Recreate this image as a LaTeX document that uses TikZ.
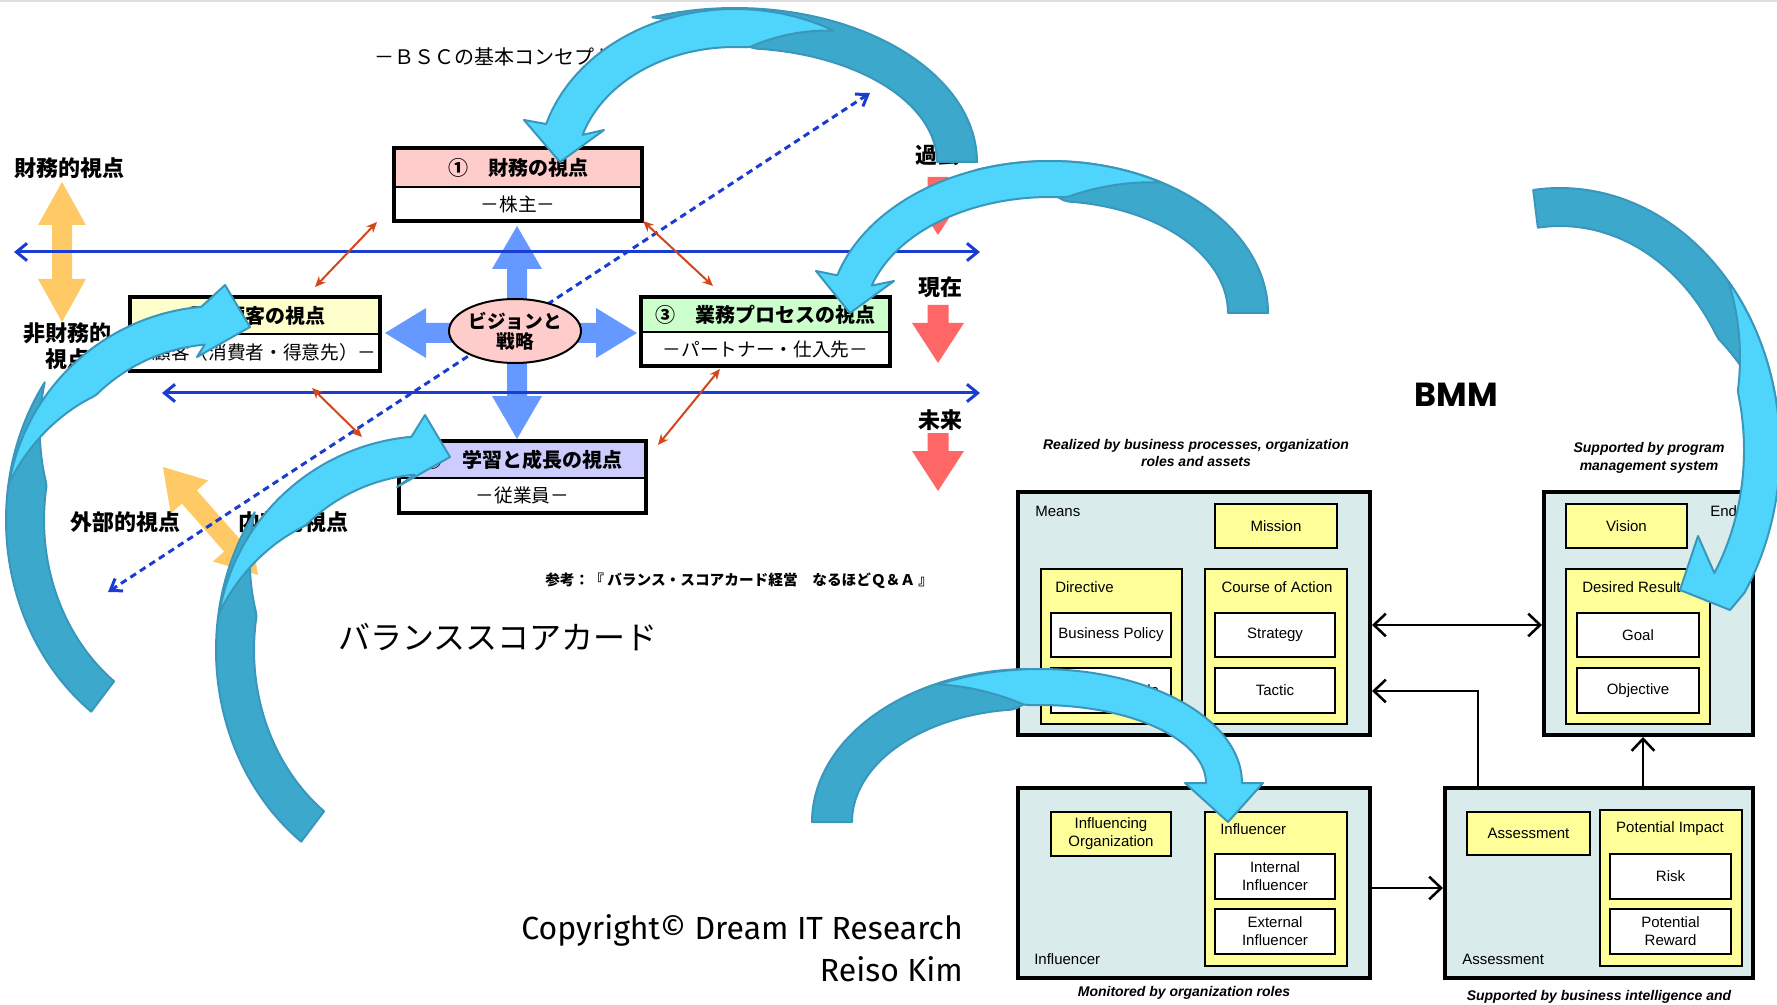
\documentclass[tikz,border=0pt]{standalone}
\usepackage{fontspec}
\setmainfont{Liberation Sans}
\newfontfamily\jpfont{Noto Sans CJK JP}
\newfontfamily\copyfont{Fira Sans}
\newfontfamily\headfont{Poppins}
\usetikzlibrary{arrows.meta,fit,shapes.geometric}

\definecolor{hdpink}{HTML}{FFCCCC}
\definecolor{hdyellow}{HTML}{FFFFCC}
\definecolor{hdgreen}{HTML}{CCFFCC}
\definecolor{hdviolet}{HTML}{CCCCFF}
\definecolor{axisblue}{HTML}{1A3CD2}
\definecolor{crossblue}{HTML}{6699FF}
\definecolor{linkred}{HTML}{D2461A}
\definecolor{timered}{HTML}{FF6666}
\definecolor{viewgold}{HTML}{FFC966}
\definecolor{panel}{HTML}{DAEBEC}
\definecolor{note}{HTML}{FFFF99}
\definecolor{ribbonfront}{HTML}{4FD4FB}
\definecolor{ribbonback}{HTML}{3CA8CB}
\definecolor{ribbonedge}{HTML}{3A97BC}

% back half of a curved block arrow: cx cy a b t_tail t_full t_zero width
\newcommand{\backband}[8]{%
  \filldraw[backface] plot[domain=#5:#7] ({#1+#3*cos(\x)},{#2+#4*sin(\x)})
    -- plot[domain=#7:#5] ({#1+(#3-#8*min(1,(\x-#7)/(#6-#7)))*cos(\x)},{#2+(#4-#8*min(1,(\x-#7)/(#6-#7)))*sin(\x)}) -- cycle;}
% front half with head: cx cy a b t_zero t_full t_head width head
\newcommand{\frontband}[9]{%
  \filldraw[frontface] plot[domain=#5:#7] ({#1+#3*cos(\x)},{#2+#4*sin(\x)}) -- #9
    -- plot[domain=#7:#5] ({#1+(#3-#8*min(1,(\x-#5)/(#6-#5)))*cos(\x)},{#2+(#4-#8*min(1,(\x-#5)/(#6-#5)))*sin(\x)}) -- cycle;}

\begin{document}
\begin{tikzpicture}[x=0.75pt,y=0.75pt,yscale=-1,xscale=1,
  hd/.style={draw, line width=1.1pt, inner sep=0pt},
  sub/.style={fill=white, inner sep=0pt},
  hdtext/.style={inner sep=0pt, font=\jpfont\bfseries\fontsize{15}{17}\selectfont},
  subtext/.style={inner sep=0pt, font=\jpfont\fontsize{14}{16}\selectfont},
  frame/.style={draw, line width=3pt, inner sep=0pt},
  jplabel/.style={inner sep=0pt, font=\jpfont\bfseries\fontsize{16.5}{19}\selectfont},
  axis/.style={axisblue, line width=2.25pt, {Straight Barb[length=8pt,width=13pt]}-{Straight Barb[length=8pt,width=13pt]}},
  timeline/.style={axisblue, line width=2.25pt, dash pattern=on 5pt off 3.5pt, {Straight Barb[length=8pt,width=11pt]}-{Straight Barb[length=8pt,width=11pt]}},
  redlink/.style={linkred, line width=1.5pt, {Stealth[length=8pt,width=7pt]}-{Stealth[length=8pt,width=7pt]}},
  panelbox/.style={draw, fill=panel, line width=3pt, inner sep=0pt},
  notebox/.style={draw, fill=note, line width=1.1pt, inner sep=0pt},
  itembox/.style={draw, fill=white, line width=1.1pt, inner sep=0pt},
  tag/.style={inner sep=0pt, align=center, font=\fontsize{11.25}{13.5}\selectfont},
  caption/.style={inner sep=0pt, align=center, font=\bfseries\itshape\fontsize{10.5}{13}\selectfont},
  flow/.style={line width=1.9pt, {Straight Barb[length=9pt,width=17pt]}-{Straight Barb[length=9pt,width=17pt]}},
  flowto/.style={line width=1.9pt, -{Straight Barb[length=9pt,width=17pt]}},
  backface/.style={fill=ribbonback, draw=ribbonedge, line width=1.5pt, line join=round, samples=60},
  frontface/.style={fill=ribbonfront, draw=ribbonedge, line width=1.5pt, line join=round, samples=60}]
\useasboundingbox (0,0) rectangle (1777,1005);
\draw[gray!25, line width=1.5pt] (0,1) -- (1777,1);

%%%%%%%%%%%%%%%% balanced scorecard %%%%%%%%%%%%%%%%
% four-way arrow behind the vision
\fill[crossblue] (517,226) -- (542,269) -- (527,269) -- (527,323) -- (596,323) -- (596,308) -- (637,333) -- (596,358) -- (596,343) -- (527,343) -- (527,396) -- (542,396) -- (517,439) -- (492,396) -- (507,396) -- (507,343) -- (426,343) -- (426,358) -- (385,333) -- (426,308) -- (426,323) -- (507,323) -- (507,269) -- (492,269) -- cycle;

% financial / non-financial
\fill[viewgold] (62,182) -- (86,225) -- (72,225) -- (72,279) -- (86,279) -- (62,322) -- (38,279) -- (52,279) -- (52,225) -- (38,225) -- cycle;
% external / internal
\fill[viewgold] (163,467) -- (208.2,480.5) -- (196.9,490.4) -- (239.1,538.4) -- (250.4,528.5) -- (258,575) -- (212.9,561.5) -- (224.1,551.6) -- (181.9,503.6) -- (170.7,513.5) -- cycle;

% time axes
\coordinate (axTL) at (14,252);
\coordinate (axTR) at (980,252);
\coordinate (axBL) at (162,393);
\coordinate (axBR) at (980,393);
\draw[axis] (axTL) -- (axTR);
\draw[axis] (axBL) -- (axBR);

% diagonal
\coordinate (diagL) at (108,592);
\coordinate (diagR) at (870,93);
\draw[timeline] (diagL) -- (diagR);

% past, present, future
\foreach \y in {177,305,433}
  \fill[timered] (927.5,\y) -- (948.5,\y) -- (948.5,\y+18) -- (964,\y+18) -- (938,\y+58) -- (912,\y+18) -- (927.5,\y+18) -- cycle;

% perspectives
\node[sub, fit={(394,187) (642,221)}] (finsub) {};
\node[hd, fill=hdpink, fit={(394,148) (642,187)}] (fin) {};
\node[frame, fit={(394,148) (642,221)}] (finbox) {};
\node[hdtext] at (fin.center) {①　財務の視点};
\node[subtext] at (finsub.center) {－株主－};

\node[sub, fit={(130,334) (380,371)}] (cussub) {};
\node[hd, fill=hdyellow, fit={(130,297) (380,334)}] (cus) {};
\node[frame, fit={(130,297) (380,371)}] (cusbox) {};
\node[hdtext] at (cus.center) {②　顧客の視点};
\node[subtext] at (cussub.center) {－顧客（消費者・得意先）－};

\node[sub, fit={(641,332) (890,366)}] (prosub) {};
\node[hd, fill=hdgreen, fit={(641,297) (890,332)}] (pro) {};
\node[frame, fit={(641,297) (890,366)}] (probox) {};
\node[hdtext] at (pro.center) {③　業務プロセスの視点};
\node[subtext] at (prosub.center) {－パートナー・仕入先－};

\node[sub, fit={(399,478) (646,513)}] (lrnsub) {};
\node[hd, fill=hdviolet, fit={(399,441) (646,478)}] (lrn) {};
\node[frame, fit={(399,441) (646,513)}] (lrnbox) {};
\node[hdtext] at (lrn.center) {④　学習と成長の視点};
\node[subtext] at (lrnsub.center) {－従業員－};

\node[ellipse, draw, fill=hdpink, line width=1.5pt, minimum width=86pt, minimum height=48pt, inner sep=0pt, align=center, font=\jpfont\bfseries\fontsize{14}{15}\selectfont] (vision) at (515,331) {ビジョンと\\戦略};

% links between perspectives
\coordinate (la1) at (377,222);
\coordinate (lb1) at (315,287);
\coordinate (la2) at (643,221);
\coordinate (lb2) at (713,286);
\coordinate (la3) at (312,388);
\coordinate (lb3) at (362,437);
\coordinate (la4) at (720,369);
\coordinate (lb4) at (658,445);
\foreach \p in {1,...,4}
  \draw[redlink] (la\p) -- (lb\p);

% labels
\node[anchor=west, inner sep=0pt, font=\jpfont\fontsize{15}{17}\selectfont] (concept) at (374,57) {－ＢＳＣの基本コンセプト－};
\node[jplabel, anchor=west] (finview) at (14,168) {財務的視点};
\node[jplabel, align=center] (nonfinview) at (67,346) {非財務的\\視点};
\node[jplabel, anchor=west] (extview) at (70,522) {外部的視点};
\node[jplabel, anchor=west] (intview) at (238,522) {内部的視点};
\node[jplabel] (past) at (937,155) {過去};
\node[jplabel] (now) at (940,287) {現在};
\node[jplabel] (future) at (940,420) {未来};
\node[anchor=west, inner sep=0pt, font=\jpfont\bfseries\fontsize{11}{13}\selectfont] (source) at (545,581) {参考：『 バランス・スコアカード経営　なるほどＱ＆Ａ 』};
\node[anchor=west, inner sep=0pt, font=\jpfont\fontsize{24}{28}\selectfont] (bsc) at (338,637) {バランススコアカード};

\node[anchor=east, inner sep=0pt, font=\copyfont\fontsize{24}{28}\selectfont] (copy) at (963,930) {Copyright© Dream IT Research};
\node[anchor=east, inner sep=0pt, font=\copyfont\fontsize{24}{28}\selectfont] (author) at (963,969) {Reiso Kim};

%%%%%%%%%%%%%%%% business motivation model %%%%%%%%%%%%%%%%
\node[font=\headfont\bfseries\fontsize{25}{30}\selectfont] (bmm) at (1456,395) {BMM};
\node[caption] (realized) at (1196,453) {Realized by business processes, organization\\roles and assets};
\node[caption] (program) at (1649,458) {Supported by program\\management system};
\node[caption] (monitored) at (1184,993) {Monitored by organization roles};
\node[caption] (intel) at (1599,997) {Supported by business intelligence and};

% means
\node[panelbox, fit={(1018,492) (1370,735)}] (means) {};
\node[tag, anchor=west] at (1035,511) {Means};
\node[notebox, fit={(1215,504) (1337,548)}] (mission) {};
\node[tag] at (mission.center) {Mission};
\node[notebox, fit={(1041,569) (1182,724)}] (directive) {};
\node[tag, anchor=west] at (1055,587) {Directive};
\node[itembox, fit={(1051,613) (1171,657)}] (policy) {};
\node[tag] at (policy.center) {Business Policy};
\node[itembox, fit={(1051,668) (1171,713)}] (rule) {};
\node[tag] at (rule.center) {Business Rule};
\node[notebox, fit={(1205,569) (1347,724)}] (course) {};
\node[tag] at (1277,587) {Course of Action};
\node[itembox, fit={(1215,613) (1335,657)}] (strategy) {};
\node[tag] at (strategy.center) {Strategy};
\node[itembox, fit={(1215,668) (1335,713)}] (tactic) {};
\node[tag] at (tactic.center) {Tactic};

% end
\node[panelbox, fit={(1544,492) (1753,735)}] (ends) {};
\node[tag, anchor=west] at (1710,511) {End};
\node[notebox, fit={(1566,504) (1687,548)}] (visionnote) {};
\node[tag] at (visionnote.center) {Vision};
\node[notebox, fit={(1566,569) (1710,724)}] (desired) {};
\node[tag, anchor=west] at (1582,587) {Desired Result};
\node[itembox, fit={(1577,613) (1699,657)}] (goal) {};
\node[tag] at (goal.center) {Goal};
\node[itembox, fit={(1577,668) (1699,713)}] (objective) {};
\node[tag] at (objective.center) {Objective};

% influencer
\node[panelbox, fit={(1018,788) (1370,978)}] (influence) {};
\node[tag, anchor=west] at (1034,959) {Influencer};
\node[notebox, fit={(1051,812) (1171,856)}] (inforg) {};
\node[tag] at (inforg.center) {Influencing\\Organization};
\node[notebox, fit={(1205,812) (1347,966)}] (infl) {};
\node[tag, anchor=west] at (1220,829) {Influencer};
\node[itembox, fit={(1215,854) (1335,899)}] (internal) {};
\node[tag] at (internal.center) {Internal\\Influencer};
\node[itembox, fit={(1215,909) (1335,954)}] (external) {};
\node[tag] at (external.center) {External\\Influencer};

% assessment
\node[panelbox, fit={(1445,788) (1753,978)}] (assess) {};
\node[tag, anchor=west] at (1462,959) {Assessment};
\node[notebox, fit={(1467,812) (1590,855)}] (assessnote) {};
\node[tag] at (assessnote.center) {Assessment};
\node[notebox, fit={(1600,810) (1742,966)}] (impact) {};
\node[tag] at (1670,829) {Potential Impact};
\node[itembox, fit={(1610,854) (1731,899)}] (risk) {};
\node[tag] at (risk.center) {Risk};
\node[itembox, fit={(1610,909) (1731,954)}] (reward) {};
\node[tag] at (reward.center) {Potential\\Reward};

% relations
\draw[flow] ([yshift=8.6pt]means.east) -- ([yshift=8.6pt]ends.west);
\draw[flowto] ([xshift=-90.75pt]assess.north) |- ([yshift=58.1pt]means.east);
\draw[flowto] ([xshift=33pt]assess.north) -- ([xshift=33pt]assess.north |- ends.south);
\draw[flowto] ([yshift=3.75pt]influence.east) -- ([yshift=3.75pt]assess.west);

%%%%%%%%%%%%%%%% curved block arrows %%%%%%%%%%%%%%%%
\backband{735}{162}{242}{154}{360}{275}{250}{40}
\frontband{735}{170}{197}{161}{300}{275}{196.6}{38}{(524,120) -- (560,162) -- (604,130)}

\backband{1050}{313}{218}{152}{360}{275}{250}{40}
\frontband{1050}{321}{222}{160}{300}{275}{196.6}{36}{(816,271) -- (850,313) -- (894,281)}

\backband{220}{520}{214}{240}{127}{190}{215}{38}
\frontband{220}{520}{214}{214}{190}{225}{265}{38}{(225,285) -- (250,327) -- (197,357)}

\backband{430}{650}{214}{240}{127}{190}{215}{38}
\frontband{430}{650}{214}{214}{190}{225}{265}{38}{(425,415) -- (450,457) -- (397,487)}

\backband{1030}{822}{218}{153}{180}{265}{290}{40}
\frontband{1040}{783}{202}{114}{240}{265}{360}{36}{(1263,783) -- (1228,822) -- (1185,783)}

\backband{1560}{450}{220}{262}{263}{330}{360}{38}
\frontband{1560}{450}{220}{262}{320}{345}{393}{36}{(1730,610) -- (1680,590) -- (1698,536)}

\end{tikzpicture}
\end{document}
